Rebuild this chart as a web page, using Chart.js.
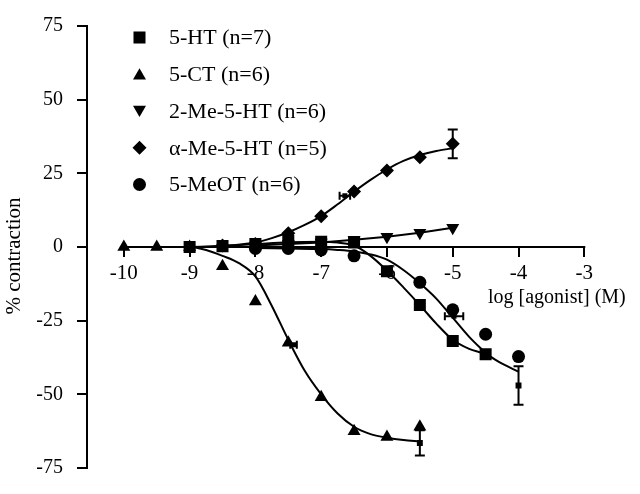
<!DOCTYPE html>
<html><head><meta charset="utf-8">
<script src="https://cdn.jsdelivr.net/npm/chart.js@4"></script>
<style>html,body{margin:0;padding:0;background:#fff;}#wrap{width:640px;height:494px;}</style>
</head><body>
<div id="wrap"><canvas id="c" width="640" height="494"></canvas></div>
<script>
// ---- axis ticks / titles ----
const xTickValues = [-10,-9,-8,-7,-6,-5,-4,-3];
const yTickValues = [-75,-50,-25,0,25,50,75];
const xTitle = 'log [agonist] (M)';
const yTitle = '% contraction';
const seriesNames = ['5-HT (n=7)','5-CT (n=6)','2-Me-5-HT (n=6)','\u03B1-Me-5-HT (n=5)','5-MeOT (n=6)'];

// ---- 5-HT ----
const ht_x = [-9,-8.5,-8,-7.5,-7,-6.5,-6,-5.5,-5,-4.5];
const ht_y = [0,0.3,1,2,1.8,1.5,-8.2,-19.7,-31.9,-36.4];
const htFit_x = [-9,-8.5,-8,-7.5,-7,-6.75,-6.5,-6.25,-6,-5.75,-5.5,-5.25,-5,-4.75,-4.5,-4.25,-4];
const htFit_y = [0,0.4,1,1.6,1.8,1.5,0.5,-3,-8,-13.7,-19.7,-26,-31.5,-34.6,-36.4,-39.6,-42.3];
// ---- 5-CT ----
const ct_x = [-10,-9.5,-9,-8.5,-8,-7.5,-7,-6.5,-6,-5.5];
const ct_y = [0,0,0,-6.5,-18.5,-32.5,-51,-62.5,-64.5,-61];
const ctFit_x = [-10,-9.5,-9,-8.75,-8.5,-8.25,-8,-7.75,-7.5,-7.25,-7,-6.75,-6.5,-6.25,-6,-5.75,-5.5];
const ctFit_y = [0,0,0,-1,-3,-5.5,-10,-20,-31.5,-42,-50,-56.5,-61,-63.5,-64.7,-65.5,-66];
// ---- 2-Me-5-HT ----
const me2_x = [-8,-7.5,-7,-6.5,-6,-5.5,-5];
const me2_y = [0.5,1,1.5,2.5,3.5,4.8,6.5];
// ---- alpha-Me-5-HT ----
const am_x = [-8.5,-8,-7.5,-7,-6.5,-6,-5.5,-5];
const am_y = [0.5,1,4.7,10.4,18.8,26,30.5,35];
const am_err = [0,0,0,0,0,0,0,4.9];
const amFit_x = [-8.5,-8,-7.75,-7.5,-7.25,-7,-6.75,-6.5,-6.25,-6,-5.75,-5.5,-5.25,-5];
const amFit_y = [0.3,1.5,3,5,7.5,10.5,14.5,18.8,22.8,26.3,29.2,31.2,32.6,33.5];
// ---- 5-MeOT ----
const mo_x = [-8,-7.5,-7,-6.5,-5.5,-5,-4.5,-4];
const mo_y = [-0.5,-0.5,-1,-3,-12,-21.3,-29.6,-37.2];
const moFit_x = [-8,-7.5,-7,-6.75,-6.5,-6.25,-6,-5.75,-5.5,-5.25,-5,-4.75,-4.5];
const moFit_y = [-0.3,-0.5,-0.7,-1,-1.5,-2.5,-4.3,-7.8,-12.3,-17.5,-24,-30.5,-36];
// ---- small markers: maxima with vertical error ----
const mx_x = [-5.5,-4];
const mx_y = [-66.5,-47];
const mx_err = [4.3,6.5];
// ---- small markers: EC50 with horizontal error ----
const ec_x = [-7.42,-6.64,-4.98];
const ec_y = [-33.2,17.4,-23.5];
const ec_xerr = [0.05,0.08,0.14];

const pts = (xs, ys) => xs.map((x, i) => ({x, y: ys[i]}));
const SERIF = "'Liberation Serif', 'Times New Roman', serif";

const markerStyles = [
  {pointStyle: 'rect', radius: 8.5, rotation: 0},
  {pointStyle: 'triangle', radius: 7.5, rotation: 0},
  {pointStyle: 'triangle', radius: 7.5, rotation: 180},
  {pointStyle: 'rectRot', radius: 7, rotation: 0},
  {pointStyle: 'circle', radius: 6.5, rotation: 0},
];

function pointDs(label, data, k, extra) {
  const m = markerStyles[k];
  return Object.assign({
    label, data, showLine: false,
    pointStyle: m.pointStyle, pointRadius: m.radius, pointRotation: m.rotation,
    pointBackgroundColor: '#000', pointBorderColor: '#000', pointBorderWidth: 0,
    borderColor: '#000', backgroundColor: '#000'
  }, extra || {});
}
function fitDs(data) {
  return {
    label: '', data, showLine: true, pointRadius: 0, borderColor: '#000', borderWidth: 2,
    cubicInterpolationMode: 'monotone', fill: false
  };
}

const datasets = [
  pointDs(seriesNames[0], pts(ht_x, ht_y), 0),
  pointDs(seriesNames[1], pts(ct_x, ct_y), 1),
  pointDs(seriesNames[2], pts(me2_x, me2_y), 2, {showLine: true, borderWidth: 2, tension: 0}),
  pointDs(seriesNames[3], pts(am_x, am_y), 3, {errY: am_err}),
  pointDs(seriesNames[4], pts(mo_x, mo_y), 4),
  fitDs(pts(htFit_x, htFit_y)),
  fitDs(pts(ctFit_x, ctFit_y)),
  fitDs(pts(amFit_x, amFit_y)),
  fitDs(pts(moFit_x, moFit_y)),
  {label: '', data: pts(mx_x, mx_y), showLine: false, pointStyle: 'rect', pointRadius: 4.2,
   pointBackgroundColor: '#000', pointBorderWidth: 0, errY: mx_err},
  {label: '', data: pts(ec_x, ec_y), showLine: false, pointStyle: 'rect', pointRadius: 3.5,
   pointBackgroundColor: '#000', pointBorderWidth: 0, errX: ec_xerr},
];

function drawMarker(ctx, m, x, y) {
  ctx.fillStyle = '#000';
  if (Chart.helpers && Chart.helpers.drawPoint) {
    Chart.helpers.drawPoint(ctx, {pointStyle: m.pointStyle, rotation: m.rotation, radius: m.radius, borderWidth: 0}, x, y);
  } else {
    ctx.beginPath(); ctx.arc(x, y, m.radius, 0, Math.PI * 2); ctx.fill();
  }
}

const decor = {
  id: 'decor',
  beforeDatasetsDraw(chart) {
    const {ctx, scales: {x, y}} = chart;
    const y0 = y.getPixelForValue(0);
    ctx.save();
    ctx.strokeStyle = '#000'; ctx.lineWidth = 2;
    ctx.beginPath();
    ctx.moveTo(x.getPixelForValue(xTickValues[0]) - 1, y0);
    ctx.lineTo(x.getPixelForValue(xTickValues[xTickValues.length - 1]) + 1, y0);
    ctx.stroke();
    ctx.restore();
  },
  afterDatasetsDraw(chart) {
    const {ctx, scales: {x, y}} = chart;
    ctx.save();
    ctx.strokeStyle = '#000'; ctx.lineWidth = 2;
    chart.data.datasets.forEach(ds => {
      ds.data.forEach((p, i) => {
        const px = x.getPixelForValue(p.x), py = y.getPixelForValue(p.y);
        if (ds.errY && ds.errY[i]) {
          const t = y.getPixelForValue(p.y + ds.errY[i]), b = y.getPixelForValue(p.y - ds.errY[i]);
          ctx.beginPath();
          ctx.moveTo(px, t); ctx.lineTo(px, b);
          ctx.moveTo(px - 5, t); ctx.lineTo(px + 5, t);
          ctx.moveTo(px - 5, b); ctx.lineTo(px + 5, b);
          ctx.stroke();
        }
        if (ds.errX && ds.errX[i]) {
          const l = x.getPixelForValue(p.x - ds.errX[i]), r = x.getPixelForValue(p.x + ds.errX[i]);
          ctx.beginPath();
          ctx.moveTo(l, py); ctx.lineTo(r, py);
          ctx.moveTo(l, py - 4); ctx.lineTo(l, py + 4);
          ctx.moveTo(r, py - 4); ctx.lineTo(r, py + 4);
          ctx.stroke();
        }
      });
    });
    ctx.restore();
  },
  afterDraw(chart) {
    const {ctx, chartArea} = chart;
    ctx.save();
    ctx.fillStyle = '#000';
    // x title
    ctx.font = '20px ' + SERIF;
    ctx.textAlign = 'left'; ctx.textBaseline = 'middle';
    ctx.fillText(xTitle, 488, 298);
    // y title
    ctx.save();
    ctx.translate(14, 256);
    ctx.rotate(-Math.PI / 2);
    ctx.textAlign = 'center'; ctx.textBaseline = 'middle';
    ctx.font = '21px ' + SERIF;
    ctx.fillText(yTitle, 0, 0);
    ctx.restore();
    // legend
    ctx.font = '22px ' + SERIF;
    ctx.textAlign = 'left'; ctx.textBaseline = 'middle';
    seriesNames.forEach((name, i) => {
      const ly = 37.5 + i * 36.75;
      const m = markerStyles[i];
      const dy = m.pointStyle === 'triangle' ? (m.rotation ? -1.5 : 1.5) : 0;
      drawMarker(ctx, m, 139.5, ly + dy);
      ctx.fillText(name, 169, ly + 1);
    });
    ctx.restore();
  }
};

new Chart(document.getElementById('c'), {
  type: 'scatter',
  data: {datasets},
  options: {
    responsive: false, devicePixelRatio: 1, animation: false,
    layout: {padding: {left: 0, right: 55.7, top: 13.3, bottom: 16}},
    plugins: {legend: {display: false}, tooltip: {enabled: false}},
    scales: {
      x: {
        type: 'linear', position: {y: 0}, min: -10.56, max: -3,
        afterBuildTicks: s => { s.ticks = xTickValues.map(v => ({value: v})); },
        grid: {drawOnChartArea: false, drawTicks: true, tickLength: 10, color: '#000', lineWidth: 2},
        border: {display: false},
        ticks: {color: '#000', font: {family: SERIF, size: 21}, padding: 4, maxRotation: 0, autoSkip: false}
      },
      y: {
        type: 'linear', position: 'left', min: -75, max: 75,
        afterBuildTicks: s => { s.ticks = yTickValues.map(v => ({value: v})); },
        afterFit: s => { s.width = 87; },
        grid: {drawOnChartArea: false, drawTicks: true, tickLength: 10, color: '#000', lineWidth: 2},
        border: {display: true, color: '#000', width: 2},
        ticks: {color: '#000', font: {family: SERIF, size: 20}, padding: 14}
      }
    }
  },
  plugins: [decor]
});
</script>
</body></html>
